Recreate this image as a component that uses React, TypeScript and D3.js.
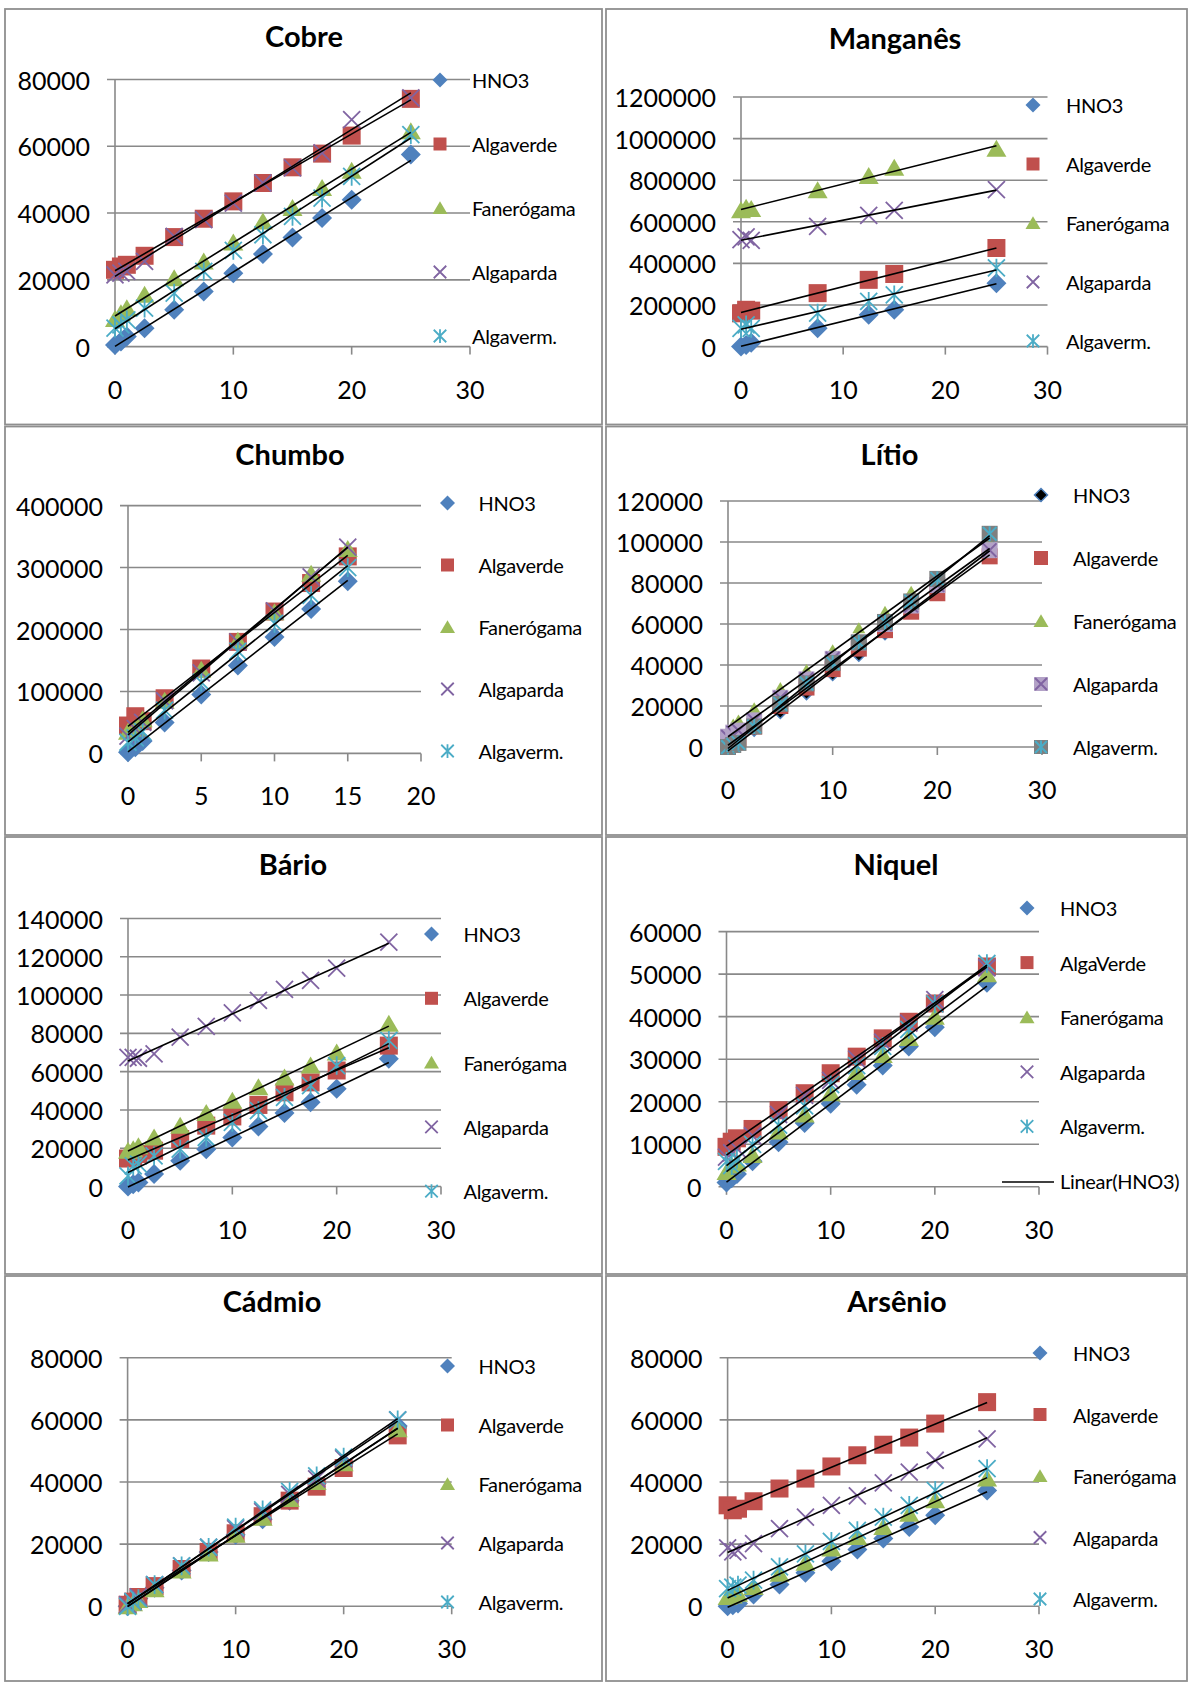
import React from "react";
import * as d3 from "d3";

// concentrations (x)
const xFull = [0, 0.5, 1, 2.5, 5, 7.5, 10, 12.5, 15, 17.5, 20, 25];
const xMn = [0, 0.5, 1, 7.5, 12.5, 15, 25];
const xPb = [0, 0.5, 1, 2.5, 5, 7.5, 10, 12.5, 15];

const seriesNames = ["HNO3", "Algaverde", "Fanerógama", "Algaparda", "Algaverm."];
const niquelNames = ["HNO3", "AlgaVerde", "Fanerógama", "Algaparda", "Algaverm.", "Linear(HNO3)"];

// Cobre
const cobreHNO3 = [500, 1500, 3000, 5500, 11000, 16500, 22000, 27700, 32700, 38500, 44000, 57500];
const cobreVerde = [23000, 24000, 24500, 27200, 32800, 38300, 43500, 49000, 53700, 57800, 63200, 74200];
const cobreFaner = [8300, 10000, 11500, 15500, 20500, 25500, 31200, 37500, 41500, 47500, 52700, 64500];
const cobreParda = [21500, 22000, 22500, 25500, 33000, 38000, 43000, 49000, 53500, 58000, 68000, 74500];
const cobreVerm = [5500, 6500, 8000, 11500, 16000, 22500, 28800, 33500, 39000, 44500, 51000, 63500];

// Manganês
const mnHNO3 = [0, 8000, 19000, 88000, 153000, 177000, 305000];
const mnVerde = [160000, 177000, 173000, 257000, 321000, 349000, 474000];
const mnFaner = [655000, 667000, 662000, 752000, 820000, 860000, 951000];
const mnParda = [514000, 527000, 511000, 578000, 631000, 655000, 755000];
const mnVerm = [88000, 104000, 88000, 161000, 217000, 249000, 378000];

// Chumbo
const pbHNO3 = [2000, 10000, 20000, 50000, 95000, 142000, 188000, 233000, 278000];
const pbVerde = [45000, 60000, 52000, 89000, 137000, 180000, 229000, 275000, 318000];
const pbFaner = [35000, 40000, 55000, 85000, 135000, 182000, 228000, 290000, 330000];
const pbParda = [28000, 40000, 50000, 85000, 130000, 180000, 230000, 285000, 333000];
const pbVerm = [18000, 25000, 35000, 70000, 115000, 165000, 210000, 255000, 300000];

// Lítio
const liHNO3 = [500, 1500, 3000, 8000, 16600, 25800, 35100, 44500, 55000, 66000, 77000, 99000];
const liVerde = [1000, 2000, 4000, 10000, 20000, 29000, 38000, 48000, 57000, 66000, 75000, 93000];
const liFaner = [8000, 11000, 13000, 19000, 28800, 37600, 47300, 58000, 66000, 75800, 82000, 100000];
const liParda = [5000, 7000, 8000, 13000, 24000, 33000, 43000, 51000, 60000, 69000, 79000, 96000];
const liVerm = [0, 1000, 2000, 10000, 21000, 31000, 41000, 51000, 61000, 71000, 82000, 104000];

// Bário
const baHNO3 = [0, 1200, 2100, 6500, 13400, 19500, 25600, 31400, 38400, 44000, 51000, 66700];
const baVerde = [14600, 15500, 17000, 18700, 24800, 31800, 36600, 42600, 49200, 54400, 60600, 73600];
const baFaner = [18700, 19500, 21000, 25600, 31800, 38400, 44800, 51800, 57000, 63200, 70000, 85000];
const baParda = [67500, 67500, 67000, 69300, 78000, 83600, 90700, 97200, 103000, 107700, 114100, 127700];
const baVerm = [5600, 10800, 11700, 16000, 19500, 25600, 33500, 39600, 46600, 52700, 63200, 76300];

// Niquel
const niHNO3 = [1000, 2000, 3000, 6000, 10500, 15000, 19500, 24000, 28500, 33000, 37500, 48000];
const niVerde = [9400, 10600, 11400, 13600, 18000, 22000, 26700, 30600, 34900, 38800, 43100, 51800];
const niFaner = [3500, 5000, 5500, 7500, 13000, 17000, 22000, 27000, 31000, 35000, 40000, 50000];
const niParda = [7000, 8000, 9000, 12000, 17000, 21500, 25000, 30000, 34000, 38500, 44000, 51500];
const niVerm = [6000, 5000, 6500, 10000, 14500, 19000, 24000, 28500, 33000, 37000, 43000, 52500];

// Cádmio
const cdHNO3 = [0, 1000, 2500, 6000, 11500, 17500, 23000, 28000, 34000, 39500, 46000, 58000];
const cdVerde = [500, 1500, 3000, 6500, 12000, 17500, 23500, 29000, 34000, 38500, 44500, 55000];
const cdFaner = [0, 1000, 2000, 5500, 11500, 17000, 23000, 28500, 34500, 40000, 46000, 57000];
const cdParda = [500, 1500, 3000, 7000, 13000, 19000, 25000, 30500, 36000, 41000, 47500, 60000];
const cdVerm = [0, 1500, 2500, 7000, 13000, 19000, 25500, 31000, 37000, 42000, 48000, 60000];

// Arsênio
const asHNO3 = [0, 300, 900, 3800, 7000, 10800, 14500, 18300, 21800, 25500, 29300, 37300];
const asVerde = [32500, 30900, 31400, 33800, 37900, 41100, 45000, 48600, 52000, 54300, 58800, 65700];
const asFaner = [3000, 3500, 4000, 6200, 10500, 14000, 18600, 22300, 25500, 29800, 34100, 41100];
const asParda = [18800, 17500, 18000, 20200, 25000, 28700, 32500, 35500, 39700, 43200, 47000, 53900];
const asVerm = [5700, 6200, 6800, 8400, 12700, 16900, 20900, 24400, 28700, 32500, 37300, 44300];

const colors = ["#4F81BD", "#C0504D", "#9BBB59", "#8064A2", "#4BACC6"];
const GRID = "#898989";
const FONT = "Lato, 'Liberation Sans', sans-serif";

type MarkStyle = { kind: string; fill?: string; stroke?: string; overlay?: string; overlayColor?: string; size: number; lg: number };

const defaultMarks: MarkStyle[] = [
  { kind: "diamond", fill: colors[0], size: 20, lg: 15 },
  { kind: "square", fill: colors[1], size: 18, lg: 13 },
  { kind: "triangle", fill: colors[2], size: 20, lg: 15 },
  { kind: "x", stroke: colors[3], size: 17, lg: 12.5 },
  { kind: "star", stroke: colors[4], size: 17, lg: 12.5 },
];
// Lítio uses different markers
const litioMarks: MarkStyle[] = [
  { kind: "diamond", fill: "#000", stroke: colors[0], size: 11, lg: 13 },
  { kind: "square", fill: colors[1], size: 16, lg: 14 },
  { kind: "triangle", fill: colors[2], size: 13, lg: 15 },
  { kind: "square", fill: "#B3A2C7", overlay: "x", overlayColor: colors[3], size: 16, lg: 14 },
  { kind: "square", fill: "#7F7F7F", overlay: "star", overlayColor: colors[4], size: 16, lg: 14 },
];

const panels = [
  { title: "Cobre", box: [5, 9, 602, 424.5], tx: 304, ty: 35, plot: [115, 79.5, 470, 346.6], xMax: 30, xStep: 10, yMax: 80000, yStep: 20000, lgMx: 440, lgTx: 472, lgY: 80, lgGap: 64, xs: xFull, ys: [cobreHNO3, cobreVerde, cobreFaner, cobreParda, cobreVerm], names: seriesNames, marks: defaultMarks },
  { title: "Manganês", box: [606, 9, 1187, 424.5], tx: 895, ty: 37, plot: [741, 97, 1047.5, 346.6], xMax: 30, xStep: 10, yMax: 1200000, yStep: 200000, lgMx: 1033, lgTx: 1066, lgY: 105, lgGap: 59, xs: xMn, ys: [mnHNO3, mnVerde, mnFaner, mnParda, mnVerm], names: seriesNames, marks: defaultMarks },
  { title: "Chumbo", box: [5, 426.5, 602, 835], tx: 290, ty: 453, plot: [128, 505.6, 421, 753.4], xMax: 20, xStep: 5, yMax: 400000, yStep: 100000, lgMx: 447.5, lgTx: 478.5, lgY: 503, lgGap: 62, xs: xPb, ys: [pbHNO3, pbVerde, pbFaner, pbParda, pbVerm], names: seriesNames, marks: defaultMarks },
  { title: "Lítio", box: [606, 426.5, 1187, 835], tx: 889.5, ty: 453, plot: [728, 501, 1042, 747], xMax: 30, xStep: 10, yMax: 120000, yStep: 20000, lgMx: 1041, lgTx: 1073, lgY: 495, lgGap: 63, xs: xFull, ys: [liHNO3, liVerde, liFaner, liParda, liVerm], names: seriesNames, marks: litioMarks },
  { title: "Bário", box: [5, 837, 602, 1274], tx: 293, ty: 863, plot: [128, 918.5, 441, 1186.5], xMax: 30, xStep: 10, yMax: 140000, yStep: 20000, lgMx: 431.5, lgTx: 463.5, lgY: 934, lgGap: 64.3, xs: xFull, ys: [baHNO3, baVerde, baFaner, baParda, baVerm], names: seriesNames, marks: defaultMarks },
  { title: "Niquel", box: [606, 837, 1187, 1274], tx: 896, ty: 863, plot: [726.5, 931.6, 1039, 1186.8], xMax: 30, xStep: 10, yMax: 60000, yStep: 10000, lgMx: 1027, lgTx: 1060, lgY: 908, lgGap: 54.6, xs: xFull, ys: [niHNO3, niVerde, niFaner, niParda, niVerm], names: niquelNames, marks: defaultMarks },
  { title: "Cádmio", box: [5, 1276, 602, 1681], tx: 272, ty: 1300, plot: [127.6, 1357.7, 451.7, 1606.3], xMax: 30, xStep: 10, yMax: 80000, yStep: 20000, lgMx: 447.5, lgTx: 478.5, lgY: 1366, lgGap: 59, xs: xFull, ys: [cdHNO3, cdVerde, cdFaner, cdParda, cdVerm], names: seriesNames, marks: defaultMarks },
  { title: "Arsênio", box: [606, 1276, 1187, 1681], tx: 897, ty: 1300, plot: [727.6, 1357.7, 1039, 1606.3], xMax: 30, xStep: 10, yMax: 80000, yStep: 20000, lgMx: 1040, lgTx: 1073, lgY: 1353, lgGap: 61.5, xs: xFull, ys: [asHNO3, asVerde, asFaner, asParda, asVerm], names: seriesNames, marks: defaultMarks },
];

function shapePath(kind: string, s: number) {
  const h = s / 2;
  switch (kind) {
    case "diamond":
      return `M0,${-h}L${h},0L0,${h}L${-h},0Z`;
    case "square":
      return `M${-h},${-h}H${h}V${h}H${-h}Z`;
    case "triangle":
      return `M0,${-h * 0.9}L${h},${h * 0.8}L${-h},${h * 0.8}Z`;
    case "x":
      return `M${-h},${-h}L${h},${h}M${h},${-h}L${-h},${h}`;
    default:
      return `M${-h},${-h}L${h},${h}M${h},${-h}L${-h},${h}M0,${-h * 1.1}V${h * 1.1}`;
  }
}

function Marker({ st, x, y, s }: { st: MarkStyle; x: number; y: number; s: number }) {
  const line = st.kind === "x" || st.kind === "star";
  return (
    <g transform={`translate(${x},${y})`}>
      <path
        d={shapePath(st.kind, s)}
        fill={line ? "none" : st.fill}
        stroke={line ? st.stroke : st.stroke || "none"}
        strokeWidth={line ? 1.8 : 1.5}
      />
      {st.overlay && (
        <path d={shapePath(st.overlay, s * 0.85)} fill="none" stroke={st.overlayColor} strokeWidth={2} />
      )}
    </g>
  );
}

function fit(xs: number[], ys: number[]) {
  const mx = d3.mean(xs) as number;
  const my = d3.mean(ys) as number;
  const num = d3.sum(xs, (x, i) => (x - mx) * (ys[i] - my));
  const den = d3.sum(xs, (x) => (x - mx) * (x - mx));
  const b = num / den;
  return { b, a: my - b * mx };
}

function Panel({ p }: { p: (typeof panels)[number] }) {
  const [l, t, r, btm] = p.plot;
  const x = d3.scaleLinear().domain([0, p.xMax]).range([l, r]);
  const y = d3.scaleLinear().domain([0, p.yMax]).range([btm, t]);
  const yTicks = d3.range(0, p.yMax + 1, p.yStep);
  const xTicks = d3.range(0, p.xMax + 0.001, p.xStep);
  const line = d3.line<[number, number]>().x((d) => x(d[0])).y((d) => y(d[1]));
  const [bx0, by0, bx1, by1] = p.box;
  return (
    <g>
      <rect x={bx0} y={by0} width={bx1 - bx0} height={by1 - by0} fill="#fff" stroke="#8f8f8f" strokeWidth={1.8} />
      <text x={p.tx} y={p.ty} textAnchor="middle" dominantBaseline="central" fontFamily={FONT} fontWeight="bold" fontSize={29}>
        {p.title}
      </text>
      {yTicks.map((v) => (
        <g key={"y" + v}>
          <line x1={l - 8} x2={r} y1={y(v)} y2={y(v)} stroke={GRID} strokeWidth={1.6} />
          <text x={l - 25} y={y(v)} textAnchor="end" dominantBaseline="central" fontFamily={FONT} fontSize={25}>
            {v}
          </text>
        </g>
      ))}
      <line x1={l} x2={l} y1={t} y2={btm} stroke={GRID} strokeWidth={1.6} />
      {xTicks.map((v) => (
        <g key={"x" + v}>
          <line x1={x(v)} x2={x(v)} y1={btm} y2={btm + 8} stroke={GRID} strokeWidth={1.6} />
          <text x={x(v)} y={btm + 42} textAnchor="middle" dominantBaseline="central" fontFamily={FONT} fontSize={25}>
            {v}
          </text>
        </g>
      ))}
      {p.ys.map((ys, si) => (
        <g key={"s" + si}>
          {ys.map((v, i) => (
            <Marker key={i} st={p.marks[si]} x={x(p.xs[i])} y={y(v)} s={p.marks[si].size} />
          ))}
        </g>
      ))}
      {p.ys.map((ys, si) => {
        const { a, b } = fit(p.xs, ys);
        const x0 = d3.min(p.xs) as number;
        const x1 = d3.max(p.xs) as number;
        return (
          <path key={"t" + si} d={line([[x0, a + b * x0], [x1, a + b * x1]]) || ""} stroke="#000" strokeWidth={1.6} fill="none" />
        );
      })}
      {p.names.map((name, i) => {
        const ly = p.lgY + i * p.lgGap;
        return (
          <g key={"lg" + i}>
            {i < 5 ? (
              <Marker st={p.marks[i]} x={p.lgMx} y={ly} s={p.marks[i].lg} />
            ) : (
              <line x1={p.lgMx - 25} x2={p.lgMx + 27} y1={ly + 1} y2={ly + 1} stroke="#000" strokeWidth={1.6} />
            )}
            <text x={p.lgTx} y={ly} dominantBaseline="central" fontFamily={FONT} fontSize={20} letterSpacing={-0.3}>
              {name}
            </text>
          </g>
        );
      })}
    </g>
  );
}

export default function App() {
  return (
    <svg width={1188} height={1682} style={{ position: "absolute", left: 0, top: 0, background: "#fff" }}>
      {panels.map((p) => (
        <Panel key={p.title} p={p} />
      ))}
    </svg>
  );
}
